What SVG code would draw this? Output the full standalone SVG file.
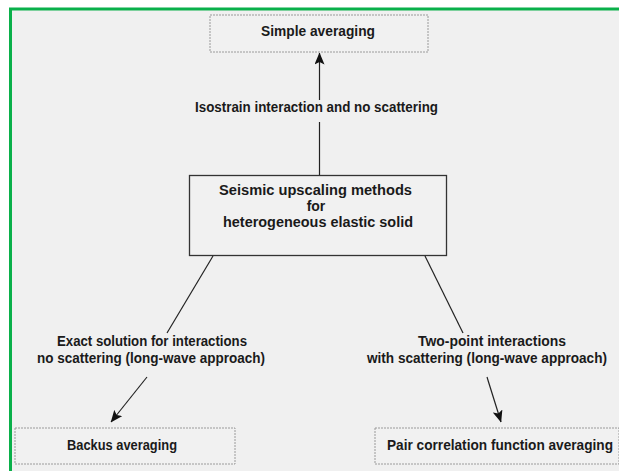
<svg xmlns="http://www.w3.org/2000/svg" width="619" height="471" viewBox="0 0 619 471">
<style>
.lbl{font-family:"Liberation Sans",Arial,sans-serif;font-size:14px;font-weight:bold;fill:#1a1a1a;text-anchor:middle}
.dbox{fill:#f1f1f1;stroke:#9a9a9a;stroke-width:1;stroke-dasharray:2 1}
.line{stroke:#222;stroke-width:1.2;fill:none}
</style>
<defs>
<marker id="ah" viewBox="0 0 12 10" refX="11.5" refY="5" markerWidth="12" markerHeight="10" markerUnits="userSpaceOnUse" orient="auto">
<path d="M0,0 L12,5 L0,10 L2.5,5 z" fill="#111"/>
</marker>
</defs>
<rect x="0" y="0" width="619" height="471" fill="#fff"/>
<rect x="10" y="9" width="609" height="462" fill="#f0f0f0"/>
<line x1="10.5" y1="8" x2="10.5" y2="471" stroke="#0ab04a" stroke-width="3"/>
<line x1="9" y1="9" x2="619" y2="9" stroke="#0ab04a" stroke-width="3"/>
<g id="connectors">
<line class="line" x1="319.5" y1="175" x2="319.5" y2="122"/>
<line class="line" x1="319.5" y1="100" x2="319.5" y2="53" marker-end="url(#ah)"/>
<line class="line" x1="213" y1="256" x2="167" y2="333"/>
<line class="line" x1="425" y1="256" x2="463" y2="333"/>
<line class="line" x1="147" y1="377" x2="111" y2="422" marker-end="url(#ah)"/>
<line class="line" x1="487" y1="377" x2="501" y2="422" marker-end="url(#ah)"/>
<text class="lbl" x="316.5" y="112" textLength="243" lengthAdjust="spacingAndGlyphs">Isostrain interaction and no scattering</text>
<text class="lbl" x="152" y="346" textLength="190" lengthAdjust="spacingAndGlyphs">Exact solution for interactions</text>
<text class="lbl" x="151" y="363" textLength="228" lengthAdjust="spacingAndGlyphs">no scattering (long-wave approach)</text>
<text class="lbl" x="492" y="346" textLength="148" lengthAdjust="spacingAndGlyphs">Two-point interactions</text>
<text class="lbl" x="487" y="363" textLength="240" lengthAdjust="spacingAndGlyphs">with scattering (long-wave approach)</text>
</g>
<g id="simple">
<rect class="dbox" x="210" y="15" width="218" height="37"/>
<text class="lbl" x="318" y="36" textLength="114" lengthAdjust="spacingAndGlyphs">Simple averaging</text>
</g>
<g id="main">
<rect x="189.5" y="175.5" width="257" height="80" fill="#f1f1f1" stroke="#333" stroke-width="1.3"/>
<text class="lbl" x="315.5" y="195" textLength="193" lengthAdjust="spacingAndGlyphs">Seismic upscaling methods</text>
<text class="lbl" x="316" y="211">for</text>
<text class="lbl" x="318" y="227" textLength="190" lengthAdjust="spacingAndGlyphs">heterogeneous elastic solid</text>
</g>
<g id="backus">
<rect class="dbox" x="15" y="428" width="220" height="36"/>
<text class="lbl" x="122" y="450" textLength="110" lengthAdjust="spacingAndGlyphs">Backus averaging</text>
</g>
<g id="pair">
<rect class="dbox" x="375" y="428" width="244" height="36"/>
<text class="lbl" x="500" y="450" textLength="226" lengthAdjust="spacingAndGlyphs">Pair correlation function averaging</text>
</g>
</svg>
